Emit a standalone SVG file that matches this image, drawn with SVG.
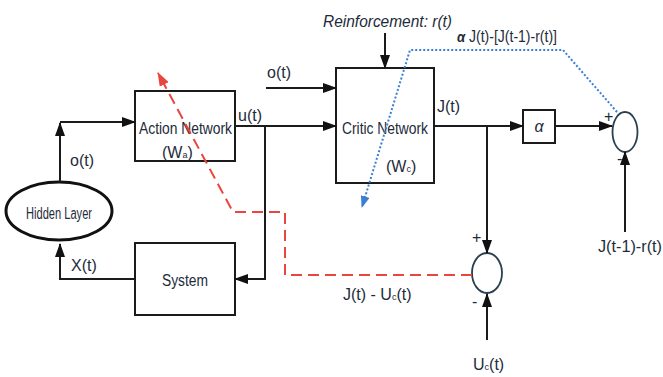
<svg xmlns="http://www.w3.org/2000/svg" width="663" height="377" viewBox="0 0 663 377">
<defs>
<style>
.ln{fill:none;stroke:#1b1b1b;stroke-width:2}
.box{fill:none;stroke:#1b1b1b;stroke-width:2}
.sum{fill:none;stroke:#2a4050;stroke-width:1.8}
.t{font-family:"Liberation Sans",Arial,sans-serif;fill:#1e2b3a;font-size:16px}
.i{font-style:italic}
.red{fill:none;stroke:#e8463e;stroke-width:2;stroke-dasharray:11 6}
.blue{fill:none;stroke:#3b7fd0;stroke-width:2;stroke-dasharray:2 2}
</style>
<marker id="ah" markerWidth="14" markerHeight="10" refX="13" refY="5" orient="auto" markerUnits="userSpaceOnUse">
<path d="M0,0 L14,5 L0,10 Z" fill="#111"/>
</marker>
<marker id="ahr" markerWidth="14" markerHeight="10" refX="13" refY="5" orient="auto" markerUnits="userSpaceOnUse">
<path d="M0,0 L14,5 L0,10 Z" fill="#e8463e"/>
</marker>
<marker id="ahb" markerWidth="12" markerHeight="9" refX="11" refY="4.5" orient="auto" markerUnits="userSpaceOnUse">
<path d="M0,0 L12,4.5 L0,9 Z" fill="#3b7fd0"/>
</marker>
</defs>
<rect width="663" height="377" fill="#fff"/>

<g id="hidden-layer">
<ellipse cx="59" cy="211" rx="53" ry="29" fill="#fff" stroke="#111" stroke-width="3"/>
<text class="t" x="59" y="219" font-size="13" text-anchor="middle" textLength="66" lengthAdjust="spacingAndGlyphs" fill="#2a4a60">Hidden Layer</text>
</g>

<g id="action-network">
<rect class="box" x="135" y="91" width="100" height="70"/>
<text class="t" x="139" y="134" font-size="18" textLength="93" lengthAdjust="spacingAndGlyphs">Action Network</text>
<text class="t" x="162" y="158" font-size="18">(W<tspan font-size="9">a</tspan>)</text>
</g>

<g id="system">
<rect class="box" x="135" y="243" width="100" height="72"/>
<text class="t" x="162" y="286" font-size="17" textLength="46" lengthAdjust="spacingAndGlyphs">System</text>
</g>

<g id="critic-network">
<rect class="box" x="336" y="68" width="98" height="115"/>
<text class="t" x="342" y="134" font-size="18" textLength="86" lengthAdjust="spacingAndGlyphs">Critic Network</text>
<text class="t" x="386" y="172" font-size="18">(W<tspan font-size="9">c</tspan>)</text>
</g>

<g id="alpha">
<rect class="box" x="523" y="110" width="32" height="33"/>
<text class="t i" x="539" y="132" font-size="16" text-anchor="middle">α</text>
</g>

<g id="sum-top">
<ellipse class="sum" cx="625" cy="132" rx="12.5" ry="20"/>
<text class="t" x="604" y="122" font-size="12">+</text>
<text class="t" x="617" y="164" font-size="13">-</text>
</g>

<g id="sum-bottom">
<ellipse class="sum" cx="487" cy="273" rx="15" ry="20"/>
<text class="t" x="472" y="243" font-size="13">+</text>
<text class="t" x="472" y="307" font-size="13">-</text>
</g>

<g id="connectors">
<path class="ln" d="M60,182 V123" marker-end="url(#ah)"/>
<path class="ln" d="M60,122 H135" marker-end="url(#ah)"/>
<path class="ln" d="M135,279 H60 V244" marker-end="url(#ah)"/>
<path class="ln" d="M235,126 H336" marker-end="url(#ah)"/>
<path class="ln" d="M265,126 V279 H235" marker-end="url(#ah)"/>
<path class="ln" d="M266,88 H336" marker-end="url(#ah)"/>
<path class="ln" d="M385,33 V68" marker-end="url(#ah)"/>
<path class="ln" d="M434,126 H523" marker-end="url(#ah)"/>
<path class="ln" d="M487,126 V253" marker-end="url(#ah)"/>
<path class="ln" d="M555,126 H612" marker-end="url(#ah)"/>
<path class="ln" d="M625,232 V152" marker-end="url(#ah)"/>
<path class="ln" d="M487,340 V294" marker-end="url(#ah)"/>
<path class="red" d="M472,275 H285 V212 H233 L158,73" marker-end="url(#ahr)"/>
<path class="blue" d="M617,112 L563,50 H410 L362,207" marker-end="url(#ahb)"/>
</g>

<g id="labels">
<text class="t" x="70" y="166" font-size="18">o(t)</text>
<text class="t" x="71" y="271" font-size="18">X(t)</text>
<text class="t" x="238" y="121" font-size="17">u(t)</text>
<text class="t" x="267" y="78" font-size="18">o(t)</text>
<text class="t i" x="323" y="27" font-size="16.5" textLength="129" lengthAdjust="spacingAndGlyphs">Reinforcement: r(t)</text>
<text class="t" x="437" y="112" font-size="17">J(t)</text>
<text class="t" x="457" y="42" font-size="14" textLength="100" lengthAdjust="spacingAndGlyphs"><tspan font-style="italic" font-weight="bold" font-size="15">α</tspan> J(t)-[J(t-1)-r(t)]</text>
<text class="t" x="598" y="252" font-size="16" textLength="64" lengthAdjust="spacingAndGlyphs">J(t-1)-r(t)</text>
<text class="t" x="343" y="300" font-size="17">J(t) - U<tspan font-size="9">c</tspan>(t)</text>
<text class="t" x="473" y="370" font-size="17">U<tspan font-size="9">c</tspan>(t)</text>
</g>
</svg>
